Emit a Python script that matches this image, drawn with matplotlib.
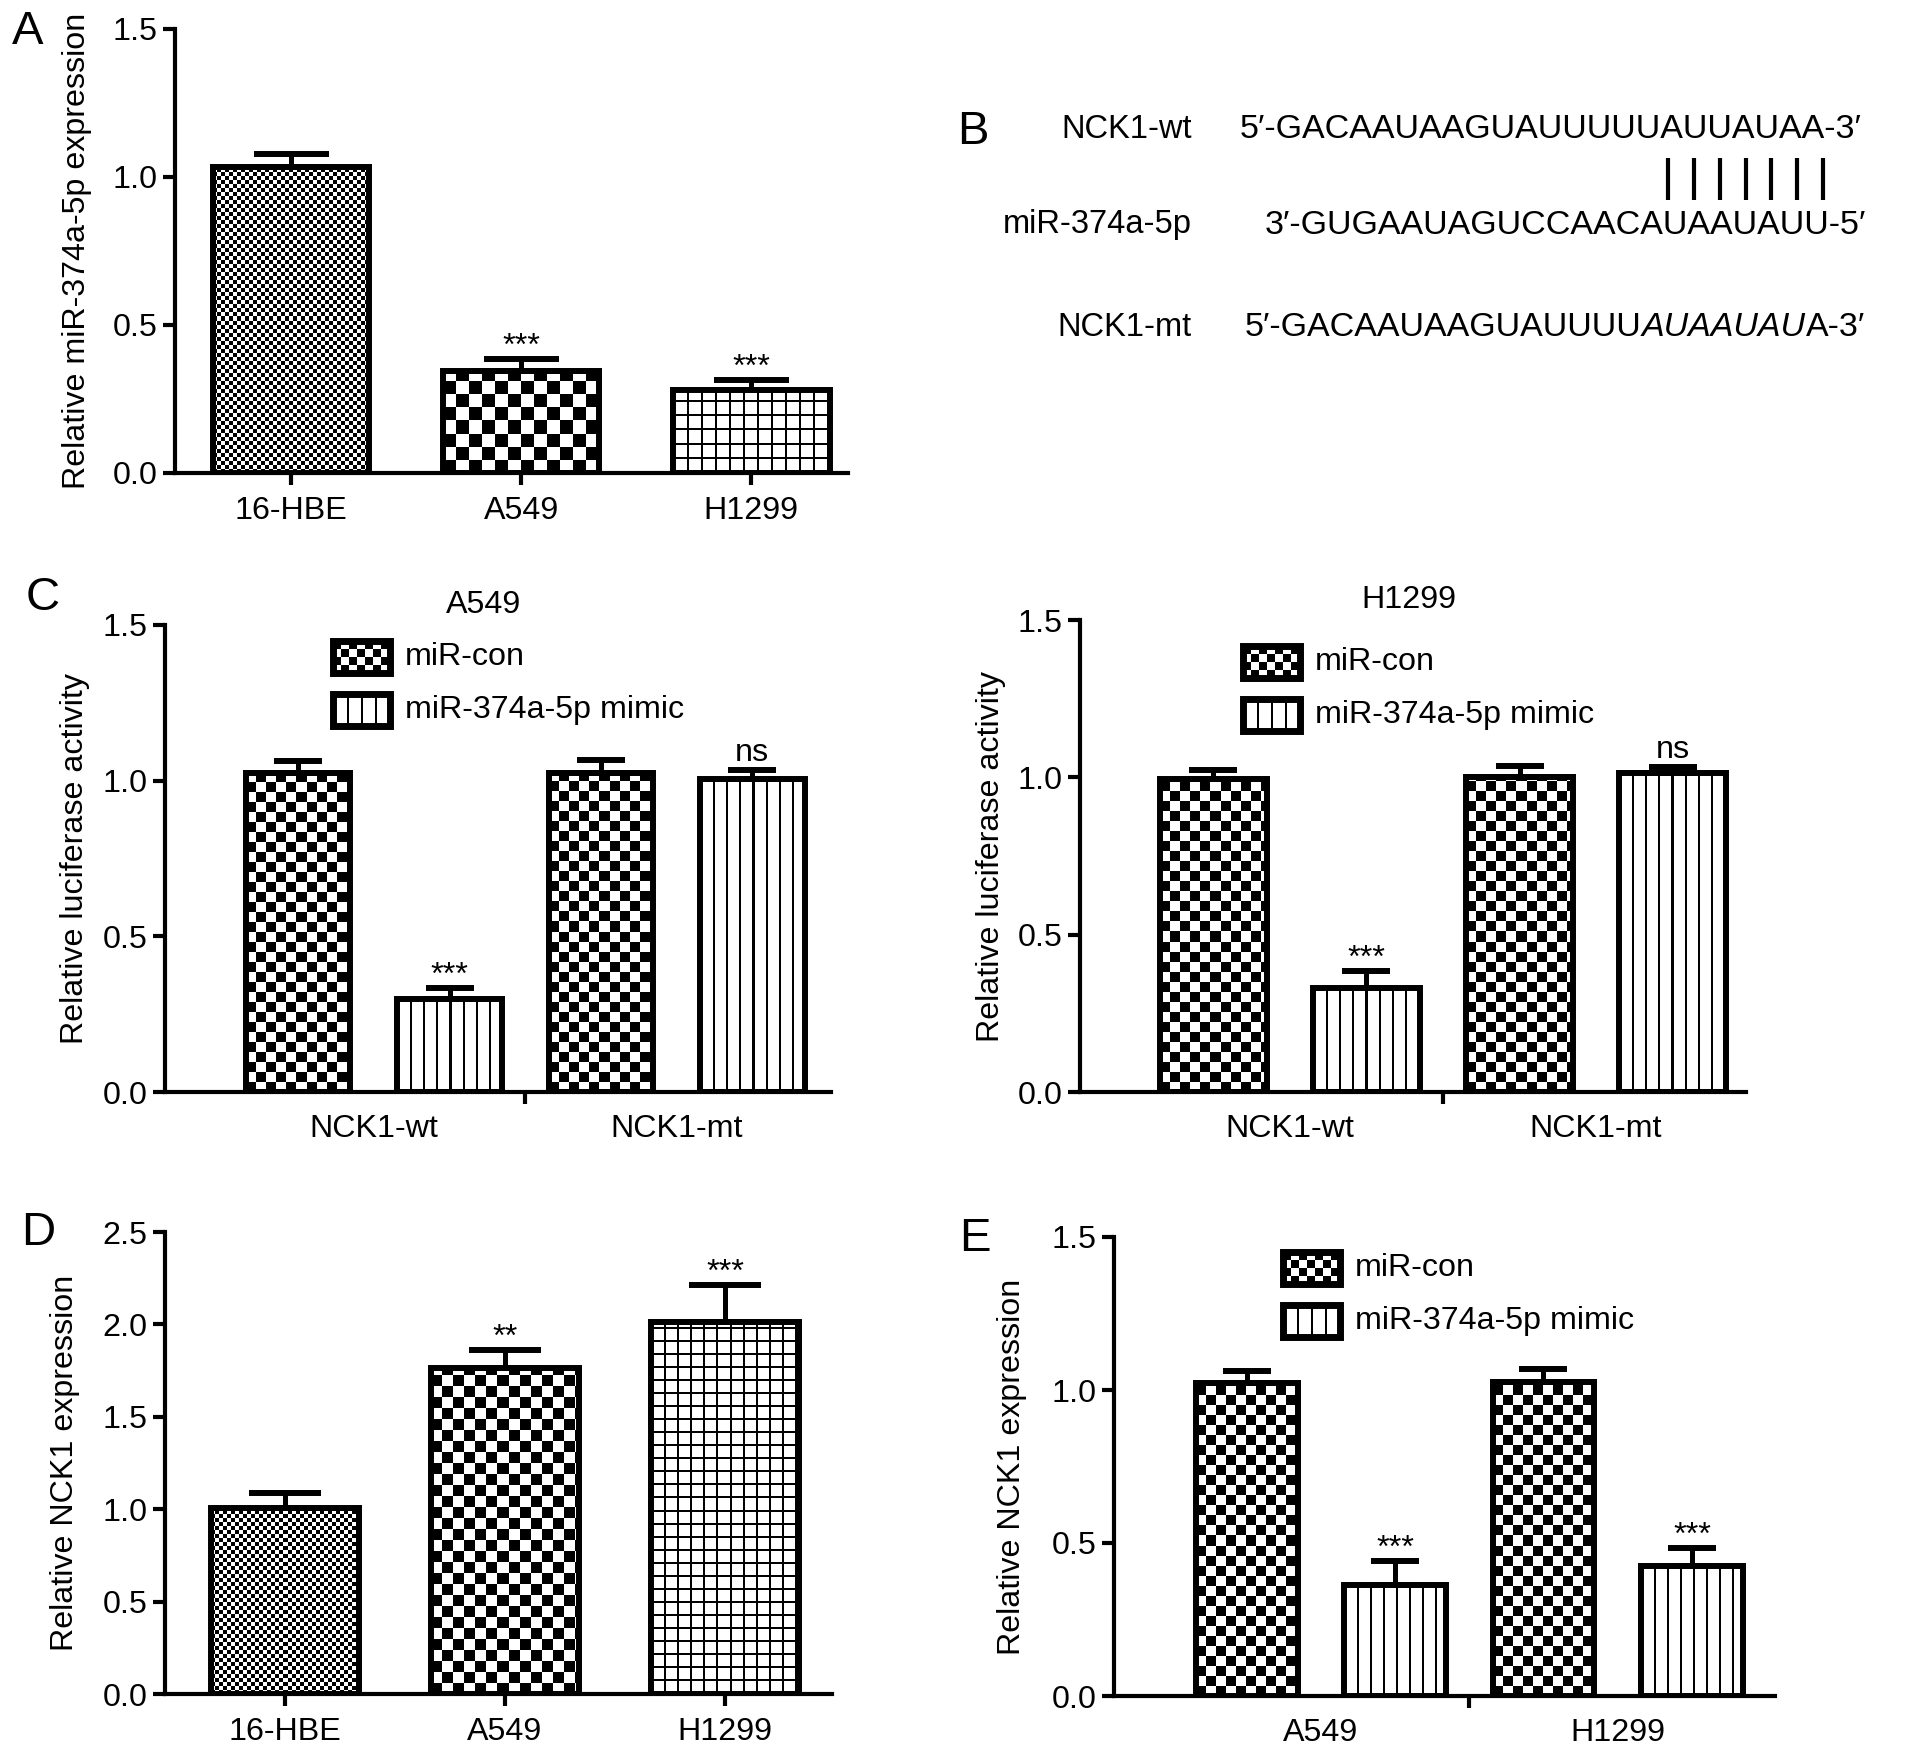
import numpy as np
import matplotlib
matplotlib.use("Agg")
import matplotlib.pyplot as plt
from matplotlib.patches import Rectangle
from matplotlib.ticker import FormatStrFormatter

plt.rcParams['font.family'] = ['Liberation Sans', 'DejaVu Sans']

W, H = 1913, 1757

# ---- data ----
cells = ['16-HBE', 'A549', 'H1299']
mir_expr = [1.034, 0.345, 0.282]
mir_err = [0.044, 0.040, 0.033]
mir_sig = ['', '***', '***']

luc_groups = ['NCK1-wt', 'NCK1-mt']
luc_a549_con = [1.024, 1.026]
luc_a549_con_err = [0.039, 0.041]
luc_a549_mim = [0.298, 1.005]
luc_a549_mim_err = [0.036, 0.028]
luc_a549_sig = ['***', 'ns']
luc_h1299_con = [0.995, 1.002]
luc_h1299_con_err = [0.029, 0.034]
luc_h1299_mim = [0.330, 1.015]
luc_h1299_mim_err = [0.055, 0.017]
luc_h1299_sig = ['***', 'ns']

nck1_expr = [1.004, 1.763, 2.015]
nck1_err = [0.085, 0.096, 0.200]
nck1_sig = ['', '**', '***']

e_groups = ['A549', 'H1299']
nck1_con = [1.024, 1.027]
nck1_con_err = [0.038, 0.041]
nck1_mim = [0.362, 0.426]
nck1_mim_err = [0.080, 0.059]
nck1_mim_sig = ['***', '***']

seq_names = ['NCK1-wt', 'miR-374a-5p', 'NCK1-mt']
seq_wt = '5\u2032-GACAAUAAGUAUUUUUAUUAUAA-3\u2032'
seq_mir = '3\u2032-GUGAAUAGUCCAACAUAAUAUU-5\u2032'
seq_mt = ['5\u2032-GACAAUAAGUAUUUU', 'AUAAUAU', 'A-3\u2032']
n_pairs = 7

legend_labels = ['miR-con', 'miR-374a-5p mimic']

FS = 23.2
BAR_LW = 4.3

fig = plt.figure(figsize=(W / 100, H / 100), dpi=100)


def pattern(kind, w, h, s):
    yy, xx = np.mgrid[0:h, 0:w]
    if kind == 'check':
        m = (xx // s + yy // s) % 2 == 0
    elif kind == 'grid':
        m = (xx % s < 2) | (yy % s < 2)
    else:  # vertical lines
        m = (xx % s) < 2
    return np.where(m, 0.0, 1.0)


def fill(ax, bars, kind, s):
    xl, yl = ax.get_xlim(), ax.get_ylim()
    for b in bars:
        bb = b.get_window_extent()
        w = max(int(round(bb.width)), 1)
        h = max(int(round(bb.height)), 1)
        x0, y0 = b.get_xy()
        ax.imshow(pattern(kind, w, h, s), cmap='gray', vmin=0, vmax=1,
                  origin='lower', interpolation='nearest', aspect='auto',
                  extent=(x0, x0 + b.get_width(), y0, y0 + b.get_height()),
                  zorder=2)
    ax.set_xlim(xl)
    ax.set_ylim(yl)


def make_axes(l, r, t, b):
    return fig.add_axes([l / W, 1 - b / H, (r - l) / W, (b - t) / H])


def style(ax, ylim, yticks, ylabel, lab_px, l, r):
    for s in ['top', 'right']:
        ax.spines[s].set_visible(False)
    for s in ['left', 'bottom']:
        ax.spines[s].set_linewidth(3)
    ax.set_ylim(*ylim)
    ax.set_yticks(yticks)
    ax.yaxis.set_major_formatter(FormatStrFormatter('%.1f'))
    ax.tick_params(axis='y', width=3, length=8.5, labelsize=FS, pad=4)
    ax.set_ylabel(ylabel, fontsize=FS)
    ax.yaxis.set_label_coords((lab_px - l) / (r - l), 0.5)


def stars(ax, xs, vals, errs, sigs):
    for xi, v, e, s in zip(xs, vals, errs, sigs):
        if s:
            off = 7 if s == 'ns' else 3
            ax.annotate(s, (xi, v + e), xytext=(0, off), textcoords='offset points',
                        ha='center', va='baseline', fontsize=FS)


def single_panel(box, labels, vals, errs, sigs, kinds, xlim, ylim, yticks,
                 width, cap, ylabel, lab_px):
    l, r, t, b = box
    ax = make_axes(l, r, t, b)
    style(ax, ylim, yticks, ylabel, lab_px, l, r)
    ax.set_xlim(*xlim)
    x = np.arange(len(labels))
    bars = ax.bar(x, vals, width, facecolor='none', edgecolor='k',
                  linewidth=BAR_LW, zorder=3)
    for bar, (k, s) in zip(bars, kinds):
        fill(ax, [bar], k, s)
    ax.errorbar(x, vals, yerr=[np.zeros(len(vals)), errs], fmt='none', ecolor='k',
                elinewidth=3.6, capsize=cap, capthick=4.3, zorder=4)
    stars(ax, x, vals, errs, sigs)
    ax.set_xticks(x, labels)
    ax.tick_params(axis='x', width=3, length=8.5, labelsize=FS, pad=8)
    return ax


def grouped_panel(box, groups, con, con_err, mim, mim_err, sigs, xlim, width,
                  cap, ylabel, lab_px, title=None, title_px=None):
    l, r, t, b = box
    ax = make_axes(l, r, t, b)
    style(ax, (0, 1.5), [0, 0.5, 1.0, 1.5], ylabel, lab_px, l, r)
    ax.set_xlim(*xlim)
    x = np.arange(len(groups))
    b1 = ax.bar(x - 0.25, con, width, facecolor='none', edgecolor='k',
                linewidth=BAR_LW, zorder=3)
    b2 = ax.bar(x + 0.25, mim, width, facecolor='none', edgecolor='k',
                linewidth=BAR_LW, zorder=3)
    fill(ax, b1, 'check', 10)
    fill(ax, b2, 'vline', 13)
    ax.errorbar(x - 0.25, con, yerr=[np.zeros(len(con)), con_err], fmt='none',
                ecolor='k', elinewidth=3.6, capsize=cap, capthick=4.3, zorder=4)
    ax.errorbar(x + 0.25, mim, yerr=[np.zeros(len(mim)), mim_err], fmt='none',
                ecolor='k', elinewidth=3.6, capsize=cap, capthick=4.3, zorder=4)
    stars(ax, x + 0.25, mim, mim_err, sigs)
    ax.set_xticks([0.5])
    ax.set_xticklabels([])
    ax.set_xticks(x, minor=True)
    ax.set_xticklabels(groups, minor=True)
    ax.tick_params(axis='x', which='major', width=3, length=8.5)
    ax.tick_params(axis='x', which='minor', length=0, labelsize=FS, pad=16)
    if title:
        ax.set_title(title, fontsize=FS, pad=8.5, x=(title_px - l) / (r - l))
    return ax


# ---- A ----
single_panel((175, 848, 29, 473), cells, mir_expr, mir_err, mir_sig,
             [('check', 4), ('check', 13), ('grid', 14)],
             (-0.504, 2.42), (0, 1.5), [0, 0.5, 1.0, 1.5], 0.68, 27,
             'Relative miR-374a-5p expression', 92)

# ---- C ----
grouped_panel((165, 831, 625, 1092), luc_groups, luc_a549_con, luc_a549_con_err,
              luc_a549_mim, luc_a549_mim_err, luc_a549_sig, (-0.69, 1.51), 0.345,
              17, 'Relative luciferase activity', 90, title='A549', title_px=484)
grouped_panel((1080, 1746, 620, 1092), luc_groups, luc_h1299_con, luc_h1299_con_err,
              luc_h1299_mim, luc_h1299_mim_err, luc_h1299_sig, (-0.686, 1.49), 0.35,
              17, 'Relative luciferase activity', 1006, title='H1299', title_px=1409)

# ---- D ----
single_panel((165, 832, 1232, 1694), cells, nck1_expr, nck1_err, nck1_sig,
             [('check', 4), ('check', 11), ('grid', 13)],
             (-0.545, 2.486), (0, 2.5), [0, 0.5, 1.0, 1.5, 2.0, 2.5], 0.67, 26,
             'Relative NCK1 expression', 80)

# ---- E ----
grouped_panel((1114, 1775, 1237, 1696), e_groups, nck1_con, nck1_con_err,
              nck1_mim, nck1_mim_err, nck1_mim_sig, (-0.697, 1.53), 0.343,
              17, 'Relative NCK1 expression', 1027)

# full-figure layer on top, in pixel coords: letters, panel B, legends
bax = fig.add_axes([0, 0, 1, 1])
bax.set_zorder(10)
bax.set_xlim(0, W)
bax.set_ylim(H, 0)
bax.axis('off')


def legend_item(x, y, kind, s, text):
    w, h = 57, 32
    bax.imshow(pattern(kind, w, h, s), cmap='gray', vmin=0, vmax=1,
               extent=(x, x + w, y + h, y), interpolation='nearest',
               aspect='auto', zorder=2)
    bax.add_patch(Rectangle((x, y), w, h, fill=False, ec='k', lw=5, zorder=3))
    bax.text(x + w + 15, y + h / 2, text, va='center', ha='left', fontsize=FS)


for lx, ly in [(333, 641), (1243, 646), (1283, 1252)]:
    legend_item(lx, ly, 'check', 8, legend_labels[0])
    legend_item(lx, ly + 53, 'vline', 14, legend_labels[1])

# ---- B: sequences ----
name_y = [130, 225, 327]
for name, yy in zip(seq_names, name_y):
    bax.text(1192, yy, name, ha='right', va='center', fontsize=23.5)
bax.text(1240, name_y[0], seq_wt, ha='left', va='center', fontsize=24.5)
bax.text(1265, name_y[1], seq_mir, ha='left', va='center', fontsize=24.5)
t = bax.text(1245, name_y[2], seq_mt[0], ha='left', va='center', fontsize=24.5)
t = bax.annotate(seq_mt[1], xy=(1, 0.5), xycoords=t, ha='left', va='center',
                 fontsize=24.5, style='italic')
bax.annotate(seq_mt[2], xy=(1, 0.5), xycoords=t, ha='left', va='center',
             fontsize=24.5)
bax.vlines(np.linspace(1668, 1823, n_pairs), 158, 200, colors='k', lw=3)

# ---- panel letters ----
for letter, lx, ly in [('A', 28, 32), ('B', 973, 132), ('C', 43, 598),
                       ('D', 38, 1233), ('E', 975, 1239)]:
    bax.text(lx, ly, letter, ha='center', va='center', fontsize=34)

bax.set_xlim(0, W)
bax.set_ylim(H, 0)

fig.savefig('out.png', dpi=100)
